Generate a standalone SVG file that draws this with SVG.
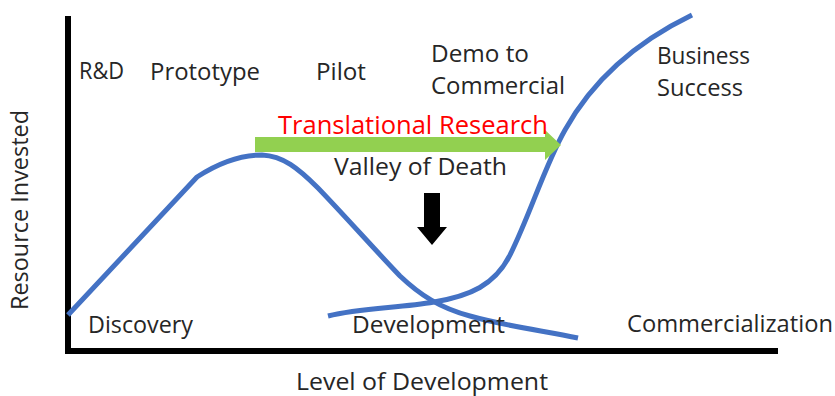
<svg xmlns="http://www.w3.org/2000/svg" width="835" height="396" viewBox="0 0 835 396">
<style>
.t{font-family:"Open Sans","DejaVu Sans",sans-serif;font-size:24px;fill:#262626}
.curve{fill:none;stroke:#4472C4;stroke-width:5;stroke-linejoin:round}
.axis{fill:none;stroke:#000;stroke-width:6}
</style>
<rect width="835" height="396" fill="#fff"/>
<g id="axes">
<path class="axis" d="M68,16 V351 H778"/>
</g>
<g id="connectors">
<path id="curve-research" class="curve" d="M68,315 L197,177 C220,162 243,155 262,155 C283,156 298,168 318,188 C345,216 375,250 400,276 C420,295 440,308 470,316 C505,326 545,331 578,338"/>
<path id="curve-business" class="curve" d="M328,316 C360,308 400,308 434,302 C470,296 495,285 510,255 C530,215 545,165 565,130 C590,85 630,45 692,15"/>
<path id="translational-arrow" d="M255,137 H545 V130 L561,145 L545,160 V152 H255 Z" fill="#92D050"/>
<path id="valley-arrow" d="M424,193 H440 V227 H447 L432,245 L417,227 H424 Z" fill="#000"/>
</g>
<g id="label-rd"><text class="t" x="79" y="79" textLength="45" lengthAdjust="spacingAndGlyphs">R&amp;D</text></g>
<g id="label-prototype"><text class="t" x="150" y="80" textLength="110" lengthAdjust="spacingAndGlyphs">Prototype</text></g>
<g id="label-pilot"><text class="t" x="316" y="80" textLength="50" lengthAdjust="spacingAndGlyphs">Pilot</text></g>
<g id="label-demo"><text class="t" x="431" y="62" textLength="98" lengthAdjust="spacingAndGlyphs">Demo to</text><text class="t" x="431" y="94" textLength="134" lengthAdjust="spacingAndGlyphs">Commercial</text></g>
<g id="label-business"><text class="t" x="657" y="64" textLength="93" lengthAdjust="spacingAndGlyphs">Business</text><text class="t" x="657" y="96" textLength="86" lengthAdjust="spacingAndGlyphs">Success</text></g>
<g id="label-translational"><text class="t" x="278" y="134" style="fill:#FF0000;font-size:25px" textLength="270" lengthAdjust="spacingAndGlyphs">Translational Research</text></g>
<g id="label-valley"><text class="t" x="334" y="175" textLength="173" lengthAdjust="spacingAndGlyphs">Valley of Death</text></g>
<g id="label-discovery"><text class="t" x="88" y="333" textLength="105" lengthAdjust="spacingAndGlyphs">Discovery</text></g>
<g id="label-development"><text class="t" x="352" y="333" textLength="153" lengthAdjust="spacingAndGlyphs">Development</text></g>
<g id="label-commercialization"><text class="t" x="627" y="332" textLength="206" lengthAdjust="spacingAndGlyphs">Commercialization</text></g>
<g id="label-x-axis"><text class="t" x="296" y="390" textLength="252" lengthAdjust="spacingAndGlyphs">Level of Development</text></g>
<g id="label-y-axis"><text class="t" transform="translate(28,210) rotate(-90)" text-anchor="middle" textLength="200" lengthAdjust="spacingAndGlyphs">Resource Invested</text></g>
</svg>
